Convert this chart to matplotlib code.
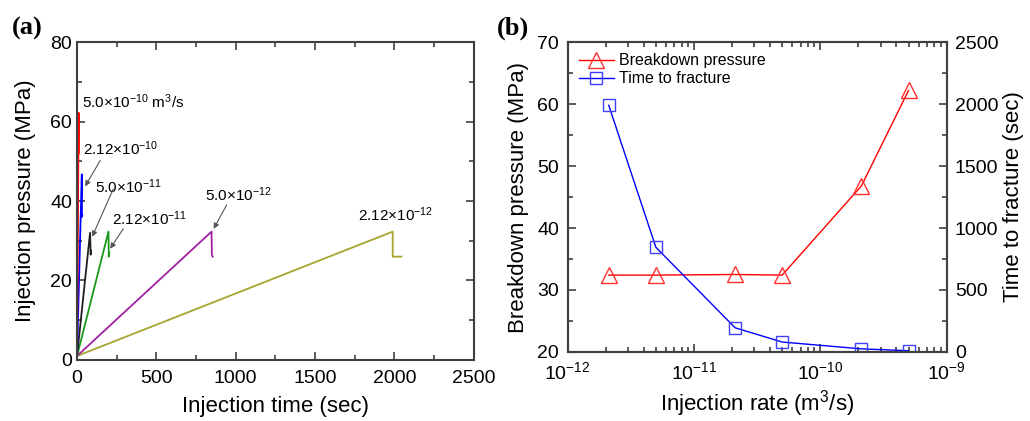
import numpy as np
import matplotlib
matplotlib.use("Agg")
from matplotlib import pyplot as plt
from matplotlib.ticker import MultipleLocator, LogLocator, NullFormatter

plt.rcParams["font.family"] = ["Liberation Sans", "DejaVu Sans"]
plt.rcParams["mathtext.fontset"] = "custom"
plt.rcParams["mathtext.rm"] = "Liberation Sans"
plt.rcParams["mathtext.it"] = "Liberation Sans:italic"

# (a) pressure histories per injection rate: time (sec), pressure (MPa)
t_5e10 = [0, 10, 10.5]
p_5e10 = [1, 62.2, 52]
t_212e10 = [0, 30, 31, 33]
p_212e10 = [1, 46.7, 36, 36.5]
t_5e11 = [0, 82, 86, 88]
p_5e11 = [1, 32.0, 26.5, 27.5]
t_212e11 = [0, 198, 200, 203]
p_212e11 = [1, 32.3, 26.0, 27.0]
t_5e12 = [0, 848, 850, 855]
p_5e12 = [1, 32.3, 26.5, 26.0]
t_212e12 = [0, 1990, 1990, 2045]
p_212e12 = [1, 32.3, 26.0, 26.0]

# (b) summary
rates = [2.12e-12, 5.0e-12, 2.12e-11, 5.0e-11, 2.12e-10, 5.0e-10]
breakdown = [32.4, 32.4, 32.5, 32.4, 46.8, 62.2]
fracture_time = [1990, 845, 195, 80, 25, 10]

SPINE = "#404040"


def style_axis(ax):
    for s in ax.spines.values():
        s.set_color(SPINE)
        s.set_linewidth(1.5)
    ax.tick_params(which="both", direction="in", color=SPINE, width=1.2,
                   labelsize=14)
    ax.tick_params(which="major", length=6)
    ax.tick_params(which="minor", length=3.5)
    ax.tick_params(axis="x", which="major", pad=7)


def main():
    fig = plt.figure(figsize=(10.3, 4.21), dpi=100)
    ax1 = fig.add_axes([0.0748, 0.145, 0.385, 0.755])
    ax2 = fig.add_axes([0.551, 0.164, 0.368, 0.736])

    # ---- panel (a)
    ax1.plot(t_212e12, p_212e12, color="#a5a530", lw=1.3)
    ax1.plot(t_5e12, p_5e12, color="#a020a0", lw=1.3)
    ax1.plot(t_212e11, p_212e11, color="#1a9a1a", lw=1.3)
    ax1.plot(t_5e11, p_5e11, color="#202020", lw=1.3)
    ax1.plot(t_212e10, p_212e10, color="#0000ff", lw=1.3)
    ax1.plot(t_5e10, p_5e10, color="#ff0000", lw=1.3)
    ax1.set_xlim(0, 2500)
    ax1.set_ylim(0, 80)
    ax1.xaxis.set_major_locator(MultipleLocator(500))
    ax1.xaxis.set_minor_locator(MultipleLocator(250))
    ax1.yaxis.set_major_locator(MultipleLocator(20))
    ax1.yaxis.set_minor_locator(MultipleLocator(10))
    style_axis(ax1)
    ax1.tick_params(which="both", top=True, right=True)
    ax1.set_xlabel("Injection time (sec)", fontsize=16, labelpad=7)
    ax1.set_ylabel("Injection pressure (MPa)", fontsize=16, labelpad=10)

    fs = 11
    arrow = dict(arrowstyle="-|>", color="#555555", lw=0.8,
                 mutation_scale=8, shrinkA=0, shrinkB=0)
    ax1.text(30, 63.3, r"5.0$\times$10$^{-10}$ m$^{3}$/s", fontsize=fs)
    ax1.text(37, 51.7, r"2.12$\times$10$^{-10}$", fontsize=fs)
    ax1.annotate("", xy=(51, 43.7), xytext=(146, 50.2), arrowprops=arrow)
    ax1.text(114, 42, r"5.0$\times$10$^{-11}$", fontsize=fs)
    ax1.annotate("", xy=(95, 31), xytext=(228, 43), arrowprops=arrow)
    ax1.text(221, 34, r"2.12$\times$10$^{-11}$", fontsize=fs)
    ax1.annotate("", xy=(209, 28), xytext=(291, 33), arrowprops=arrow)
    ax1.text(804, 40, r"5.0$\times$10$^{-12}$", fontsize=fs)
    ax1.annotate("", xy=(861, 33), xytext=(943, 39), arrowprops=arrow)
    ax1.text(1772, 35, r"2.12$\times$10$^{-12}$", fontsize=fs)

    # ---- panel (b)
    ax3 = ax2.twinx()
    ax3.set_position(ax2.get_position())
    l1, = ax2.plot(rates, breakdown, color="#ff0000", lw=1.0, marker="^",
                   ms=11, mfc="none", mec="#ff3030", mew=1.0)
    l2, = ax3.plot(rates, fracture_time, color="#0000ff", lw=1.0, marker="s",
                   ms=8.5, mfc="none", mec="#4040ff", mew=1.0)
    ax2.set_xscale("log")
    ax2.set_xlim(1e-12, 1e-9)
    ax2.set_ylim(20, 70)
    ax3.set_ylim(0, 2500)
    ax2.xaxis.set_major_locator(LogLocator(base=10))
    ax2.xaxis.set_minor_locator(LogLocator(base=10, subs=np.arange(2, 10)))
    ax2.xaxis.set_minor_formatter(NullFormatter())
    ax2.yaxis.set_major_locator(MultipleLocator(10))
    ax2.yaxis.set_minor_locator(MultipleLocator(5))
    ax3.yaxis.set_major_locator(MultipleLocator(500))
    ax3.yaxis.set_minor_locator(MultipleLocator(250))
    style_axis(ax2)
    style_axis(ax3)
    ax2.tick_params(which="both", top=True)
    ax2.tick_params(axis="y", which="major", pad=6)
    ax3.tick_params(axis="y", which="major", pad=6)
    ax2.set_xlabel(r"Injection rate (m$^{3}$/s)", fontsize=16, labelpad=3)
    ax2.set_ylabel("Breakdown pressure (MPa)", fontsize=16, labelpad=6)
    ax3.set_ylabel("Time to fracture (sec)", fontsize=16, labelpad=3)
    ax2.legend([l1, l2], ["Breakdown pressure", "Time to fracture"],
               loc="upper left", frameon=False, fontsize=11.5,
               handlelength=2.2, borderaxespad=0.3, handletextpad=0.3,
               labelspacing=0.2)

    fig.text(0.012, 0.918, "(a)", fontsize=19, fontweight="bold",
             family="Liberation Serif")
    fig.text(0.482, 0.918, "(b)", fontsize=19, fontweight="bold",
             family="Liberation Serif")

    fig.savefig("out.png", dpi=100)


if __name__ == "__main__":
    main()
